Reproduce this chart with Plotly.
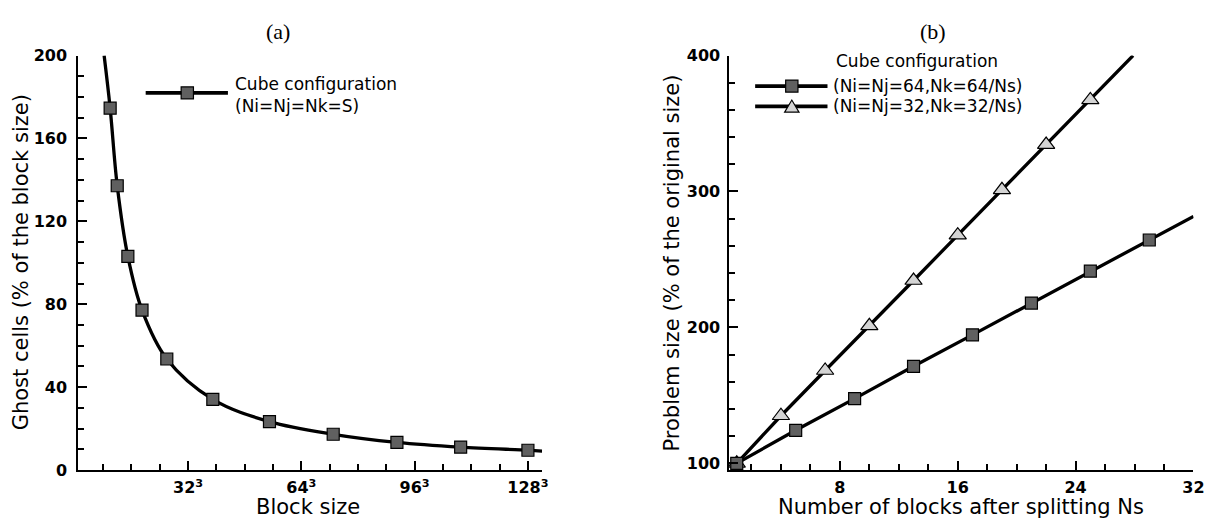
import plotly.graph_objects as go

# ---------------- data ----------------
# (a) ghost cells vs. cube block side S (block size S^3)
block_side = [10, 12, 15, 19, 26, 39, 55, 73, 91, 109, 128]
ghost_pct = [174.6, 137.2, 103.1, 77.2, 53.6, 34.1, 23.4, 17.3, 13.4, 11.1, 9.6]
# smooth curve drawn through the symbols, running past them to the frame edges
curve_side = [8.3] + block_side + [132]
curve_ghost = [200.0] + ghost_pct + [9.2]

# (b) problem size vs. number of blocks after splitting
ns_64 = [1, 5, 9, 13, 17, 21, 25, 29]
size_64 = [100, 124.3, 147.6, 171.4, 194.5, 217.9, 241.4, 264.3]
line_ns_64 = ns_64 + [32]
line_size_64 = size_64 + [281.7]

ns_32 = [1, 4, 7, 10, 13, 16, 19, 22, 25]
size_32 = [100, 135.0, 168.3, 201.2, 234.5, 267.9, 301.2, 334.5, 367.4]
line_ns_32 = ns_32 + [27.9]
line_size_32 = size_32 + [400.0]

# tick labels
a_tickvals = [32, 64, 96, 128]
a_ticktext = ["32<sup>3</sup>", "64<sup>3</sup>", "96<sup>3</sup>", "128<sup>3</sup>"]
b_tickvals = [8, 16, 24, 32]
b_ticktext = ["8", "16", "24", "32"]

W, H = 1223, 529
FONT = "DejaVu Sans"
SQ_FILL = "#606060"
TRI_FILL = "#d4d4d4"
LW = 3.3


def px(x):
    return x / W


def py(y):
    return 1 - y / H


fig = go.Figure()

# ---- panel (a) ----
fig.add_trace(go.Scatter(x=curve_side, y=curve_ghost, mode="lines",
                         line=dict(color="black", width=LW, shape="spline"),
                         xaxis="x", yaxis="y", showlegend=False, hoverinfo="skip"))
fig.add_trace(go.Scatter(x=block_side, y=ghost_pct, mode="markers",
                         marker=dict(symbol="square", size=12, color=SQ_FILL,
                                     line=dict(color="black", width=1.2)),
                         xaxis="x", yaxis="y", showlegend=False, cliponaxis=False))

# ---- panel (b) ----
fig.add_trace(go.Scatter(x=line_ns_32, y=line_size_32, mode="lines",
                         line=dict(color="black", width=LW),
                         xaxis="x2", yaxis="y2", showlegend=False, hoverinfo="skip"))
fig.add_trace(go.Scatter(x=line_ns_64, y=line_size_64, mode="lines",
                         line=dict(color="black", width=LW),
                         xaxis="x2", yaxis="y2", showlegend=False, hoverinfo="skip"))
fig.add_trace(go.Scatter(x=ns_32, y=size_32, mode="markers",
                         marker=dict(symbol="triangle-up", size=15, color=TRI_FILL,
                                     line=dict(color="black", width=1.2)),
                         xaxis="x2", yaxis="y2", showlegend=False, cliponaxis=False))
fig.add_trace(go.Scatter(x=ns_64, y=size_64, mode="markers",
                         marker=dict(symbol="square", size=12, color=SQ_FILL,
                                     line=dict(color="black", width=1.2)),
                         xaxis="x2", yaxis="y2", showlegend=False, cliponaxis=False))

tickfont = dict(family=FONT, size=16, color="black", weight="bold")
common = dict(showgrid=False, zeroline=False, showline=True, linecolor="black",
              linewidth=2, ticks="inside", ticklen=9, tickwidth=1.5,
              tickcolor="black", tickfont=tickfont, mirror=False, fixedrange=True)

ydom = [py(478.3), py(48.3)]

fig.update_layout(
    width=W, height=H,
    margin=dict(l=0, r=0, t=0, b=0),
    paper_bgcolor="white", plot_bgcolor="white",
    font=dict(family=FONT, color="black"),
    xaxis=dict(domain=[px(79), px(547)], range=[1, 132], anchor="y",
               tickmode="array", tickvals=a_tickvals, ticktext=a_ticktext,
               minor=dict(dtick=8, tick0=0, ticks="inside", ticklen=6,
                          tickwidth=1.5, tickcolor="black", showgrid=False),
               ticklabelstandoff=2, **common),
    yaxis=dict(domain=ydom, range=[0, 200], anchor="x",
               tickmode="linear", tick0=0, dtick=40,
               minor=dict(dtick=10, tick0=0, ticks="inside", ticklen=6,
                          tickwidth=1.5, tickcolor="black", showgrid=False),
               ticklabelstandoff=6, **common),
    xaxis2=dict(domain=[px(736), px(1204.3)], range=[0.5, 32], anchor="y2",
                tickmode="array", tickvals=b_tickvals, ticktext=b_ticktext,
                minor=dict(dtick=2, tick0=0, ticks="inside", ticklen=6,
                           tickwidth=1.5, tickcolor="black", showgrid=False),
                ticklabelstandoff=2, **common),
    yaxis2=dict(domain=ydom, range=[95, 400], anchor="x2",
                tickmode="linear", tick0=100, dtick=100,
                minor=dict(dtick=20, tick0=100, ticks="inside", ticklen=6,
                           tickwidth=1.5, tickcolor="black", showgrid=False),
                ticklabelstandoff=4, **common),
)

annotations = []


def label(text, x, y, size, xanchor="center", angle=0, family=FONT):
    annotations.append(dict(text=text, x=px(x), y=py(y), xref="paper", yref="paper",
                            xanchor=xanchor, yanchor="middle", showarrow=False,
                            textangle=angle,
                            font=dict(family=family, size=size, color="black")))


# panel titles
label("(a)", 281, 23, 22, family="Liberation Serif")
label("(b)", 941, 23, 22, family="Liberation Serif")
# axis titles
label("Block size", 311, 517, 21)
label("Number of blocks after splitting Ns", 970, 517, 21)
label("Ghost cells (% of the block size)", 21, 263, 21, angle=-90)
label("Problem size (% of the original size)", 678, 263, 21, angle=-90)
# legend texts
label("Cube configuration", 235, 78, 17, xanchor="left")
label("(Ni=Nj=Nk=S)", 235, 101, 17, xanchor="left")
label("Cube configuration", 841.7, 54, 17, xanchor="left")
label("(Ni=Nj=64,Nk=64/Ns)", 838.3, 80, 17, xanchor="left")
label("(Ni=Nj=32,Nk=32/Ns)", 838.3, 101, 17, xanchor="left")

shapes = []


def leg_line(x0, x1, y):
    shapes.append(dict(type="line", xref="paper", yref="paper",
                       x0=px(x0), x1=px(x1), y0=py(y), y1=py(y),
                       line=dict(color="black", width=3.6)))


def leg_square(cx, cy, half=6.2):
    shapes.append(dict(type="rect", xref="paper", yref="paper",
                       x0=px(cx - half), x1=px(cx + half),
                       y0=py(cy + half), y1=py(cy - half),
                       fillcolor=SQ_FILL, line=dict(color="black", width=1.2)))


def leg_triangle(cx, cy, w=14.5, h=12.5):
    path = (f"M {px(cx - w / 2)},{py(cy + h / 2)} L {px(cx + w / 2)},{py(cy + h / 2)} "
            f"L {px(cx)},{py(cy - h / 2)} Z")
    shapes.append(dict(type="path", xref="paper", yref="paper", path=path,
                       fillcolor=TRI_FILL, line=dict(color="black", width=1.2)))


leg_line(147, 230, 87)
leg_square(189, 87)
leg_line(762, 835, 80)
leg_square(799, 80)
leg_line(762, 835, 101)
leg_triangle(799, 100.7)

fig.update_layout(annotations=annotations, shapes=shapes)

fig.write_html("out.html", config={"displayModeBar": False})
